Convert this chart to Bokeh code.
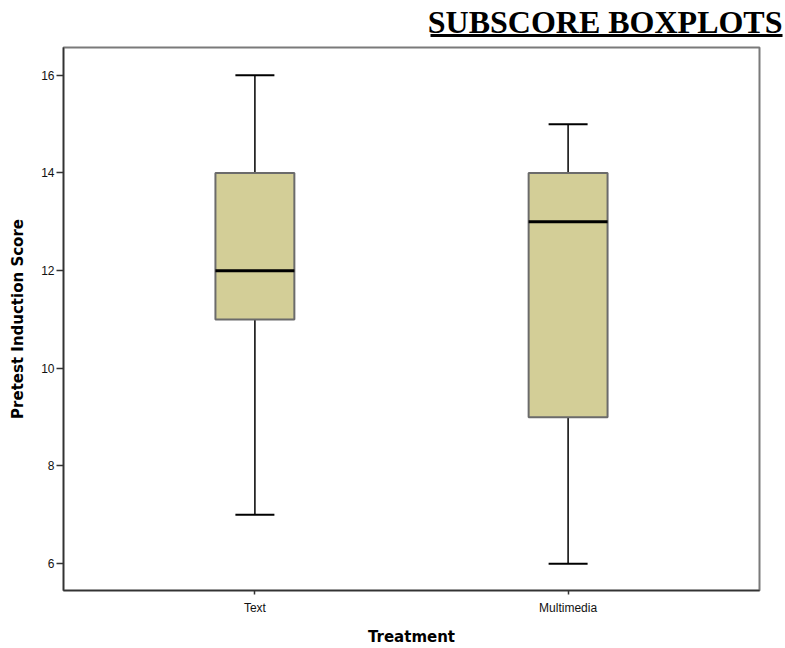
from bokeh.plotting import figure
from bokeh.models import (ColumnDataSource, FactorRange, Range1d, Whisker, TeeHead, FixedTicker)
from bokeh.core.properties import value
from bokeh.embed import file_html
from bokeh.resources import INLINE

# ---- data ----
categories = ["Text", "Multimedia"]
minimum = [7, 6]
q1 = [11, 9]
median = [12, 13]
q3 = [14, 14]
maximum = [16, 15]
y_ticks = [6, 8, 10, 12, 14, 16]
title_text = "SUBSCORE BOXPLOTS"

src = ColumnDataSource(dict(cat=categories, mn=minimum, q1=q1, med=median, q3=q3, mx=maximum))

# ---- header strip with underlined title ----
W = 785
HH = 46
hdr = figure(width=W, height=HH, x_range=Range1d(0, W), y_range=Range1d(0, HH),
             x_axis_location=None, y_axis_location=None,
             min_border=0, output_backend="svg", toolbar_location=None)
hdr.grid.visible = False
hdr.outline_line_color = None
hdr.text(x=[782], y=[25], text=[title_text], text_align="right", text_baseline="alphabetic",
         text_font=value("Liberation Serif"), text_font_style="bold", text_font_size="32px",
         text_color="black")
hdr.segment(x0=[430], x1=[782], y0=[11], y1=[11], line_color="black", line_width=3)

# ---- main plot ----
p = figure(x_range=FactorRange(factors=categories, range_padding=0.1111, range_padding_units="percent"),
           y_range=Range1d(5.45, 16.57),
           width=W, height=602,
           min_border_left=63, min_border_right=26, min_border_top=1, min_border_bottom=58,
           output_backend="svg", toolbar_location=None)

p.background_fill_color = "white"
p.border_fill_color = "white"
p.outline_line_color = "#7a7a7a"
p.outline_line_width = 2
p.grid.visible = False

wh = Whisker(source=src, base="cat", lower="mn", upper="mx", dimension="height",
             line_color="black", line_width=1.5, level="underlay",
             upper_head=TeeHead(size=39, line_color="black", line_width=2),
             lower_head=TeeHead(size=39, line_color="black", line_width=2))
p.add_layout(wh)

p.vbar(x="cat", top="q3", bottom="q1", width=0.252, source=src,
       fill_color="#D3CE97", line_color="#6b6b6b", line_width=2)
p.vbar(x="cat", top="med", bottom="med", width=0.252, source=src,
       fill_alpha=0, line_color="black", line_width=3)

p.yaxis.ticker = FixedTicker(ticks=y_ticks)
p.yaxis.axis_label = "Pretest Induction Score"
p.xaxis.axis_label = "Treatment"
for ax in (p.xaxis[0], p.yaxis[0]):
    ax.axis_label_text_font = "DejaVu Sans"
    ax.axis_label_text_font_style = "bold"
    ax.axis_label_text_font_size = "15px"
    ax.axis_label_text_color = "black"
    ax.major_label_text_font = "Liberation Sans"
    ax.major_label_text_font_size = "12px"
    ax.major_label_text_color = "#111111"
    ax.axis_line_color = "#333333"
    ax.axis_line_width = 1.5
    ax.major_tick_line_color = "#333333"
    ax.major_tick_line_width = 1.5
    ax.major_tick_in = 0
    ax.minor_tick_line_color = None
p.yaxis.major_tick_out = 7
p.yaxis.major_label_standoff = 2
p.yaxis.axis_label_standoff = 11
p.xaxis.major_tick_out = 4
p.xaxis.major_label_standoff = 6
p.xaxis.axis_label_standoff = 10

open("out.html", "w").write(file_html([hdr, p], INLINE))
